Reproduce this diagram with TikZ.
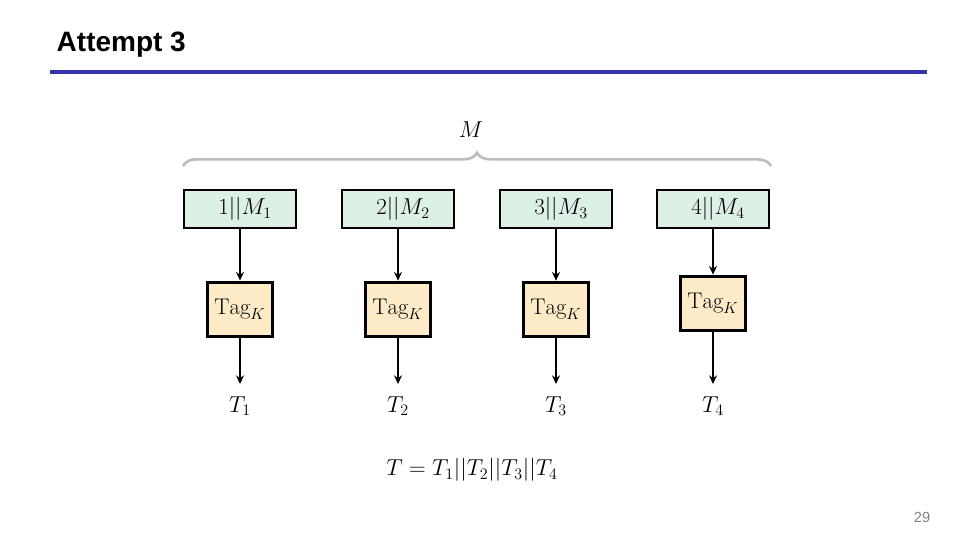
\documentclass[tikz,border=0pt]{standalone}
\usepackage{amsmath}
\usepackage{fontspec}
\newfontfamily\headfont{Liberation Sans}
\usetikzlibrary{positioning,arrows.meta,decorations.pathreplacing}

\begin{document}
\begin{tikzpicture}
[x=0.75pt,y=-0.75pt,
msg box/.style={draw,line width=1.3pt,fill=msgcolor,minimum width=84pt,minimum height=28.5pt,inner sep=0pt,font=\fontsize{17}{20}\selectfont},
tag box/.style={draw,line width=2.3pt,fill=tagcolor,minimum width=49pt,minimum height=41pt,inner sep=0pt,font=\fontsize{17}{20}\selectfont},
flow/.style={line width=1.5pt,-{Stealth[length=6.5pt,width=6pt]}},
math text/.style={font=\fontsize{17}{20}\selectfont}]
% Colors
\colorlet{rulecolor}{blue!60!black!80}
\definecolor{msgcolor}{RGB}{221,240,230}
\definecolor{tagcolor}{RGB}{253,235,200}
\definecolor{bracecolor}{RGB}{190,190,190}
\useasboundingbox (0,0) rectangle (960,540);
% Heading
\node[anchor=west,font=\headfont\bfseries\fontsize{21}{24}\selectfont] (title) at (52,45) {Attempt 3};
\fill[rulecolor] (50,70) rectangle (927,74);
% The message
\draw[bracecolor,line width=2pt,decorate,decoration={brace,amplitude=10pt}]
(183,166) -- (771,166);
\node[math text] (M) at (471,130) {$M$};
% The blocks
\foreach \i/\x/\y in {1/240/309.5,2/398/309.5,3/556/309.5,4/713/303.5}{
\node[msg box] (m\i) at (\x,209) {$\;\,\i||M_\i$};
\node[tag box] (tag\i) at (\x,\y) {$\mathrm{Tag}_K$};
\coordinate (end\i) at (\x,384);
\node[math text] (t\i) at (\x,406) {$T_\i$};
\draw[flow] (m\i) -- (tag\i);
\draw[flow] (tag\i) -- (end\i);
}
\node[math text] (T) at (472,470) {$T=T_1||T_2||T_3||T_4$};
\node[font=\headfont\fontsize{11}{13}\selectfont,text=gray] (page) at (922,517) {29};
\end{tikzpicture}
\end{document}
